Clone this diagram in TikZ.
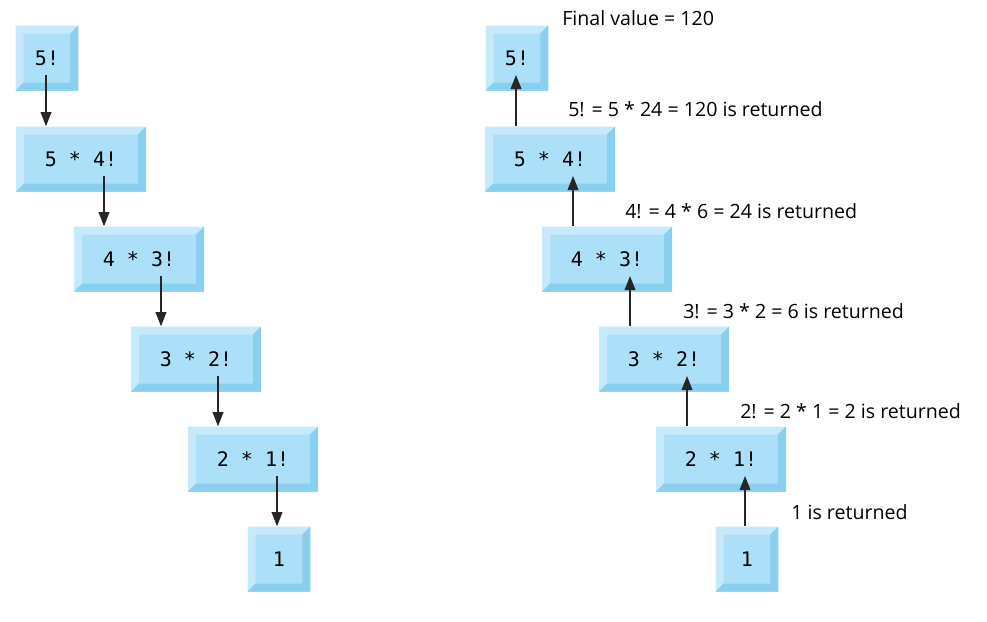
\documentclass[tikz,border=0pt]{standalone}
\usepackage{fontspec}
\setmainfont{Open Sans}
\setmonofont{DejaVu Sans Mono}
\usepackage{tikz}
\usetikzlibrary{arrows.meta, calc}

\definecolor{boxface}{RGB}{172,223,248}
\definecolor{boxlight}{RGB}{199,234,251}
\definecolor{boxdark}{RGB}{137,207,238}

\begin{document}
\begin{tikzpicture}[
    x=0.75pt, y=-0.75pt,
    block/.style={rectangle, fill=boxface, inner sep=0pt, minimum width=47pt, minimum height=48.75pt,
        font=\fontsize{15}{17}\selectfont\ttfamily,
        path picture={
            \fill[boxlight] (path picture bounding box.south west) -- (path picture bounding box.north west)
                -- (path picture bounding box.north east) -- ([shift={(-6pt,-6pt)}]path picture bounding box.north east)
                -- ([shift={(6pt,-6pt)}]path picture bounding box.north west) -- ([shift={(6pt,6pt)}]path picture bounding box.south west) -- cycle;
            \fill[boxdark] (path picture bounding box.south west) -- (path picture bounding box.south east)
                -- (path picture bounding box.north east) -- ([shift={(-6pt,-6pt)}]path picture bounding box.north east)
                -- ([shift={(-6pt,6pt)}]path picture bounding box.south east) -- ([shift={(6pt,6pt)}]path picture bounding box.south west) -- cycle;
        }},
    wideblock/.style={block, minimum width=97.5pt},
    arrow/.style={-{Triangle[length=10.5pt, width=8pt]}, line width=1.1pt, black!85},
    msg/.style={anchor=west, inner sep=0pt, font=\fontsize{14.7}{17}\selectfont}
]
\useasboundingbox (0,0) rectangle (987,621);

% Calls
\node[block] (l5) at (47,58) {5!};
\node[wideblock] (l54) at (81,159) {5 * 4!};
\node[wideblock] (l43) at (139,259) {4 * 3!};
\node[wideblock] (l32) at (196,359) {3 * 2!};
\node[wideblock] (l21) at (253,459) {2 * 1!};
\node[block] (l1) at (279,559) {1};

\draw[arrow] ([shift={(-1,17)}]l5.center) -- ([xshift=-26.25pt]l54.north);
\draw[arrow] ([shift={(23,17)}]l54.center) -- ([xshift=-26.25pt]l43.north);
\draw[arrow] ([shift={(22,17)}]l43.center) -- ([xshift=-26.25pt]l32.north);
\draw[arrow] ([shift={(22,17)}]l32.center) -- ([xshift=-26.25pt]l21.north);
\draw[arrow] ([shift={(24,17)}]l21.center) -- ([xshift=-1.5pt]l1.north);

% Returns
\node[block] (r5) at (517,58) {5!};
\node[wideblock] (r54) at (550,159) {5 * 4!};
\node[wideblock] (r43) at (607,259) {4 * 3!};
\node[wideblock] (r32) at (664,359) {3 * 2!};
\node[wideblock] (r21) at (721,459) {2 * 1!};
\node[block] (r1) at (747,559) {1};

\draw[arrow] ([xshift=-25.5pt]r54.north) -- ([shift={(-1,17)}]r5.center);
\draw[arrow] ([xshift=-25.5pt]r43.north) -- ([shift={(23,17)}]r54.center);
\draw[arrow] ([xshift=-25.5pt]r32.north) -- ([shift={(23,17)}]r43.center);
\draw[arrow] ([xshift=-25.5pt]r21.north) -- ([shift={(23,17)}]r32.center);
\draw[arrow] ([xshift=-1.5pt]r1.north) -- ([shift={(24,17)}]r21.center);

\node[msg] (final) at (562,18) {Final value = 120};
\node[msg] (ret5) at (568,109) {5! = 5 * 24 = 120 is returned};
\node[msg] (ret4) at (625,211) {4! = 4 * 6 = 24 is returned};
\node[msg] (ret3) at (683,311) {3! = 3 * 2 = 6 is returned};
\node[msg] (ret2) at (740,411) {2! = 2 * 1 = 2 is returned};
\node[msg] (ret1) at (791,512) {1 is returned};

\end{tikzpicture}
\end{document}
